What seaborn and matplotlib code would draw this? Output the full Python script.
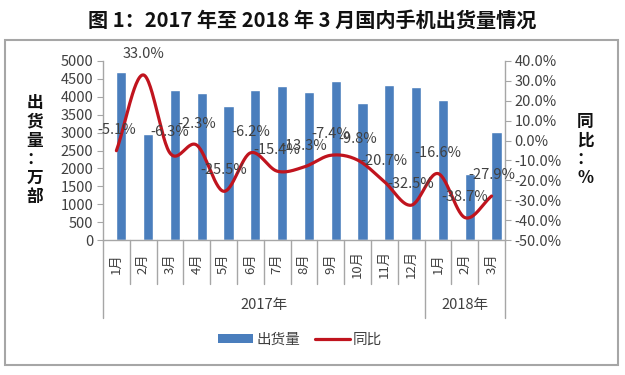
import numpy as np
import pandas as pd
import matplotlib
matplotlib.use("Agg")
import matplotlib.pyplot as plt
import matplotlib.transforms as mtransforms
from matplotlib.patches import Rectangle, Patch
from matplotlib.lines import Line2D
import seaborn as sns

# ---------------- data ----------------
months = ["1月", "2月", "3月", "4月", "5月", "6月", "7月", "8月", "9月", "10月", "11月", "12月",
          "1月", "2月", "3月"]
years = ["2017年"] * 12 + ["2018年"] * 3
shipments = [4700, 2960, 4190, 4110, 3740, 4190, 4300, 4130, 4440, 3830, 4330, 4270,
             3910, 1840, 3020]
yoy = [-5.1, 33.0, -6.3, -2.3, -25.5, -6.2, -15.4, -13.3, -7.4, -9.8, -20.7, -32.5,
       -16.6, -38.7, -27.9]
year_groups = ["2017年", "2018年"]

title = "图 1：2017 年至 2018 年 3 月国内手机出货量情况"

# ---------------- style ----------------
sns.set_theme(style="white")
plt.rcParams["font.family"] = ["Noto Sans CJK SC", "DejaVu Sans"]
TXT = "#404040"
AX = "#A6A6A6"
BAR = "#4A7EBD"
RED = "#C0141E"

W, H = 625, 375
fig = plt.figure(figsize=(W / 100, H / 100), dpi=100)

# outer border
fig.patches.append(Rectangle((5 / W, 10 / H), 613 / W, 325 / H, transform=fig.transFigure,
                             fill=False, edgecolor=AX, linewidth=1.5))

fig.text(0.5, 1 - 20 / H, title, ha="center", va="center", fontsize=14.5,
         fontweight="bold", color="#111111")

ax = fig.add_axes([103 / W, (H - 240) / H, 402 / W, 179 / H])
keys = [f"{y}{m}" for y, m in zip(years, months)]
df = pd.DataFrame({"key": keys, "month": months, "year": years,
                   "shipments": shipments, "yoy": yoy})

sns.barplot(data=df, x="key", y="shipments", order=keys, color=BAR, width=0.38,
            saturation=1, ax=ax, zorder=2)
for p in ax.patches:
    p.set_x(p.get_x() + 0.18)

ax.set_ylim(0, 5000)
ax.set_yticks(np.arange(0, 5001, 500))
ax.set_xlim(-0.5, len(keys) - 0.5)
ax.set_xlabel("")
ax.set_ylabel("")
ax.set_xticks(range(len(keys)))
ax.set_xticklabels(months, rotation=90, fontsize=9.5, color=TXT)
for lab in ax.get_xticklabels():
    lab.set_va("center")
ax.tick_params(axis="x", length=0, pad=17)
ax.tick_params(axis="y", length=4, width=0.8, color=AX, labelsize=10.5, labelcolor=TXT, pad=3,
               left=True)
for s in ["top", "right"]:
    ax.spines[s].set_visible(False)
for s in ["left", "bottom"]:
    ax.spines[s].set_color(AX)
    ax.spines[s].set_linewidth(1)

# category separators
trans = mtransforms.blended_transform_factory(ax.transData, ax.transAxes)
n = len(keys)
n2017 = years.count("2017年")
for i in range(n + 1):
    xb = i - 0.5
    long = i in (0, n2017, n)
    ax.plot([xb, xb], [0, -0.435 if long else -0.245], transform=trans, color=AX,
            lw=1, clip_on=False)
# year labels
for yg in year_groups:
    idx = [i for i, y in enumerate(years) if y == yg]
    ax.text((idx[0] + idx[-1]) / 2, -0.365, yg, transform=trans, ha="center", va="center",
            fontsize=10.5, color=TXT)

# secondary axis: smoothed line
ax2 = ax.twinx()
x = np.arange(n, dtype=float)
y = np.array(yoy, dtype=float)
xp = np.concatenate([[2 * x[0] - x[1]], x, [2 * x[-1] - x[-2]]])
yp = np.concatenate([[2 * y[0] - y[1]], y, [2 * y[-1] - y[-2]]])
sx, sy = [], []
t = np.linspace(0, 1, 30, endpoint=False)
for i in range(1, len(xp) - 2):
    p0, p1, p2, p3 = yp[i - 1], yp[i], yp[i + 1], yp[i + 2]
    q0, q1, q2, q3 = xp[i - 1], xp[i], xp[i + 1], xp[i + 2]
    cr = lambda a0, a1, a2, a3: 0.5 * ((2 * a1) + (-a0 + a2) * t +
                                       (2 * a0 - 5 * a1 + 4 * a2 - a3) * t ** 2 +
                                       (-a0 + 3 * a1 - 3 * a2 + a3) * t ** 3)
    sx.extend(cr(q0, q1, q2, q3))
    sy.extend(cr(p0, p1, p2, p3))
sx.append(x[-1])
sy.append(y[-1])
sns.lineplot(x=np.array(sx), y=np.array(sy) / 100, ax=ax2, color=RED, lw=2.3, sort=False,
             zorder=3)
ax2.set_ylim(-0.5, 0.4)
ax2.set_yticks(np.arange(-0.5, 0.401, 0.1))
ax2.set_yticklabels([f"{v:.1f}%" for v in np.arange(-50, 40.01, 10)])
ax2.tick_params(axis="y", length=4, width=0.8, color=AX, labelsize=10.5, labelcolor=TXT,
                pad=3, right=True)
for s in ["top", "left", "bottom"]:
    ax2.spines[s].set_visible(False)
ax2.spines["right"].set_color(AX)
ax2.spines["right"].set_linewidth(1)
ax2.set_ylabel("")
ax2.set_xlim(-0.5, n - 0.5)

for xi, v in zip(x, yoy):
    ax2.annotate(f"{v:.1f}%", (xi, v / 100), xytext=(0, 15), textcoords="offset points",
                 ha="center", va="center", fontsize=10.5, color=TXT, zorder=4)

# axis titles (vertical stacked)
fig.text(35 / W, 1 - 150 / H, "出\n货\n量\n：\n万\n部", ha="center", va="center",
         fontsize=12, fontweight="bold", color="#111111", linespacing=1.05)
fig.text(585 / W, 1 - 150 / H, "同\n比\n：\n%", ha="center", va="center",
         fontsize=12, fontweight="bold", color="#111111", linespacing=1.05)

handles = [Patch(facecolor=BAR, edgecolor="none"), Line2D([0], [0], color=RED, lw=2.3)]
fig.legend(handles, ["出货量", "同比"], loc="center", bbox_to_anchor=(300 / W, 1 - 340 / H),
           ncol=2, frameon=False, fontsize=10.5, handlelength=2.4, handleheight=0.55,
           columnspacing=1.0, handletextpad=0.2, labelcolor=TXT)

fig.savefig("out.png", dpi=100)
